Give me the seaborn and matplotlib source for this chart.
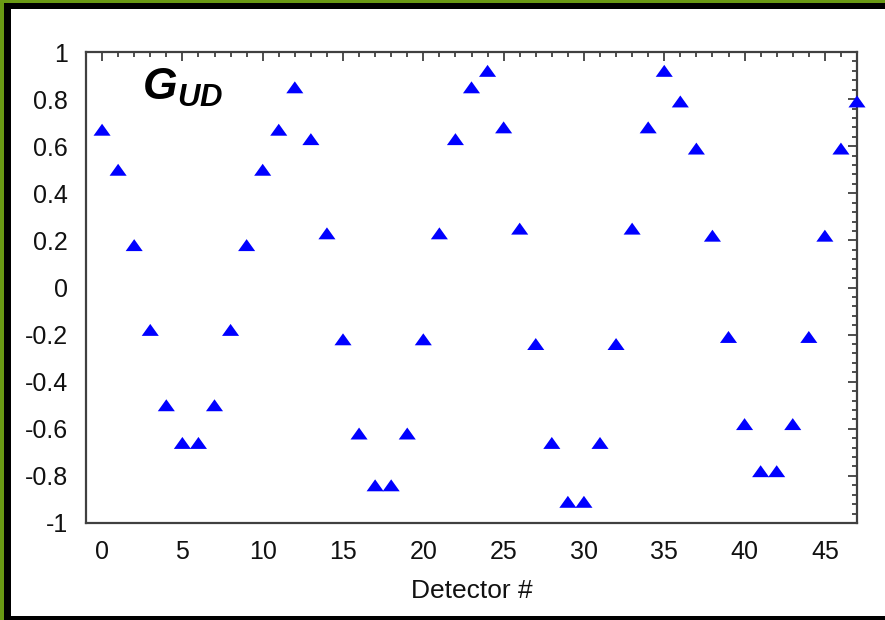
import matplotlib
matplotlib.use("Agg")
import matplotlib.pyplot as plt
import seaborn as sns
import numpy as np
import pandas as pd
from matplotlib.patches import Rectangle
from matplotlib.path import Path
from matplotlib.ticker import MultipleLocator

detector = list(range(48))
g_ud = [0.67, 0.50, 0.18, -0.18, -0.50, -0.66, -0.66, -0.50, -0.18, 0.18,
        0.50, 0.67, 0.85, 0.63, 0.23, -0.22, -0.62, -0.84, -0.84, -0.62,
        -0.22, 0.23, 0.63, 0.85, 0.92, 0.68, 0.25, -0.24, -0.66, -0.91,
        -0.91, -0.66, -0.24, 0.25, 0.68, 0.92, 0.79, 0.59, 0.22, -0.21,
        -0.58, -0.78, -0.78, -0.58, -0.21, 0.22, 0.59, 0.79]
x_ticks = [0, 5, 10, 15, 20, 25, 30, 35, 40, 45]
y_ticks = [-1, -0.8, -0.6, -0.4, -0.2, 0, 0.2, 0.4, 0.6, 0.8, 1]
y_tick_labels = ["-1", "-0.8", "-0.6", "-0.4", "-0.2", "0", "0.2", "0.4", "0.6", "0.8", "1"]

df = pd.DataFrame({"Detector": detector, "G": g_ud})

sns.set_style("white")
plt.rcParams["font.family"] = ["Liberation Sans", "DejaVu Sans"]
plt.rcParams["mathtext.fontset"] = "custom"
plt.rcParams["mathtext.bf"] = "Liberation Sans:bold:italic"
plt.rcParams["mathtext.rm"] = "Liberation Sans"
plt.rcParams["mathtext.it"] = "Liberation Sans:italic"

W, H = 885, 620
fig = plt.figure(figsize=(W / 100, H / 100), dpi=100)
fig.patch.set_facecolor("white")

# borders
def px_rect(x0, y0, x1, y1, color):
    fig.patches.append(Rectangle((x0 / W, 1 - y1 / H), (x1 - x0) / W, (y1 - y0) / H,
                                 transform=fig.transFigure, facecolor=color,
                                 edgecolor="none", zorder=-10))

green = "#6a9a14"
px_rect(0, 0, W, 3, green)
px_rect(0, 0, 4, H, green)
px_rect(4, 3, W, 9, "black")
px_rect(4, 3, 11, H, "black")
px_rect(4, 616, W, H, "black")

ax = fig.add_axes([86 / W, 1 - 523 / H, (857 - 86) / W, (523 - 52) / H])
ax.set_facecolor("white")

tri = Path([(-1.0, -0.7), (1.0, -0.7), (0.0, 0.7), (-1.0, -0.7)],
           [Path.MOVETO, Path.LINETO, Path.LINETO, Path.CLOSEPOLY])
sns.scatterplot(data=df, x="Detector", y="G", ax=ax, marker=tri, s=12.3 ** 2,
                color="#0000ff", edgecolor="none", linewidth=0, clip_on=False,
                zorder=5, legend=False)

ax.set_xlim(-1, 47)
ax.set_ylim(-1, 1)
ax.set_xticks(x_ticks)
ax.set_yticks(y_ticks)
ax.set_yticklabels(y_tick_labels)
ax.xaxis.set_minor_locator(MultipleLocator(1))
ax.yaxis.set_minor_locator(MultipleLocator(0.04))

spine_col = "#404040"
for s in ax.spines.values():
    s.set_visible(True)
    s.set_color(spine_col)
    s.set_linewidth(1.6)

ax.tick_params(which="both", direction="in", top=True, right=True, color=spine_col,
               width=1.3)
ax.tick_params(which="major", length=6.5, labelsize=18, labelcolor="#111111")
ax.tick_params(axis="y", which="major", pad=13)
ax.tick_params(axis="x", which="major", pad=12)
ax.tick_params(which="minor", length=3.5)

ax.set_xlabel("Detector #", fontsize=19, labelpad=11, color="#111111")
ax.set_ylabel("")

fig.text(142 / W, 1 - 100 / H, r"$\mathbf{G}_{\mathbf{UD}}$", fontsize=32,
         ha="left", va="baseline", color="black")

fig.savefig("out.png", dpi=100, facecolor=fig.get_facecolor())
